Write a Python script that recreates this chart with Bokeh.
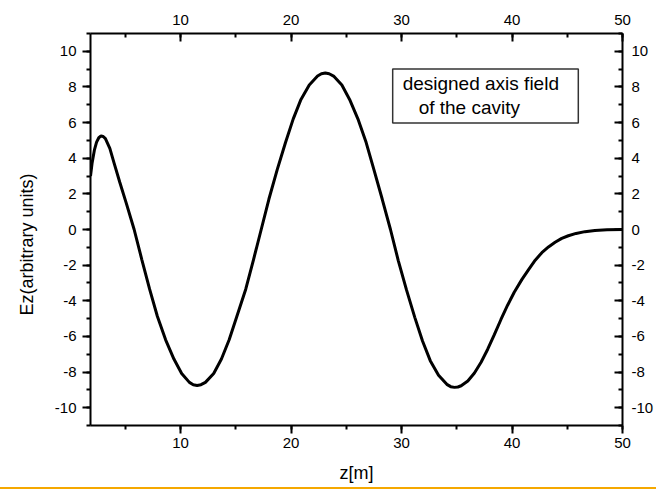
from bokeh.plotting import figure
from bokeh.models import (LinearAxis, SingleIntervalTicker, Range1d, FixedTicker,
                          BoxAnnotation, Label, CustomJSTickFormatter, Div)
from bokeh.layouts import column
from bokeh.embed import file_html
from bokeh.resources import INLINE

# ---- data ----
z_m = [1.85, 2.0, 2.2, 2.4, 2.6, 2.8, 3.0, 3.2, 3.6, 4.0, 4.5, 5.1, 5.8, 6.5,
       7.2, 7.9, 8.65, 9.4, 10.1, 10.8, 11.15, 11.5, 11.85, 12.25, 13.0, 13.7,
       14.4, 15.1, 15.9, 16.6, 17.3, 18.0, 18.75, 19.5, 20.2, 20.9, 21.65,
       22.4, 22.75, 23.1, 23.45, 23.85, 24.6, 25.3, 26.05, 26.8, 27.5, 28.25,
       29.0, 29.7, 30.45, 31.2, 31.9, 32.6, 33.35, 34.1, 34.45, 34.8, 35.1,
       35.4, 36.0, 36.6, 37.2, 37.8, 38.4, 39.0, 39.6, 40.2, 40.9, 41.5, 42.1,
       42.7, 43.3, 43.9, 44.5, 45.1, 45.8, 46.6, 47.5, 48.6, 50.0]
ez = [3.0, 3.75, 4.45, 4.9, 5.15, 5.25, 5.22, 5.1, 4.55, 3.7, 2.65, 1.45, 0.0,
      -1.7, -3.35, -4.87, -6.19, -7.27, -8.08, -8.58, -8.71, -8.75, -8.71,
      -8.58, -8.08, -7.27, -6.19, -4.87, -3.35, -1.7, 0.0, 1.71, 3.36, 4.88,
      6.21, 7.3, 8.11, 8.61, 8.74, 8.78, 8.74, 8.61, 8.11, 7.3, 6.21, 4.88,
      3.36, 1.71, 0.0, -1.73, -3.39, -4.93, -6.26, -7.36, -8.18, -8.69, -8.82,
      -8.86, -8.84, -8.77, -8.5, -8.05, -7.45, -6.72, -5.9, -5.05, -4.25,
      -3.52, -2.8, -2.25, -1.72, -1.3, -0.98, -0.72, -0.5, -0.35, -0.22,
      -0.12, -0.06, -0.02, 0.0]

legend_lines = ["designed axis field", "of the cavity"]
x_label = "z[m]"
y_label = "Ez(arbitrary units)"

FONT = "Liberation Sans"

p = figure(width=656, height=487, output_backend="svg",
           toolbar_location=None,
           x_range=Range1d(1.85, 50), y_range=Range1d(-11, 11),
           x_axis_type=None, y_axis_type=None,
           min_border_left=90, min_border_right=33, min_border_top=33,
           min_border_bottom=62)
p.outline_line_color = None
p.xgrid.visible = False
p.ygrid.visible = False
p.background_fill_color = "white"
p.border_fill_color = "white"

fmt_code = "return Math.round(tick).toString();"


def style(ax, inside):
    ax.formatter = CustomJSTickFormatter(code=fmt_code)
    ax.axis_line_width = 2
    ax.axis_line_color = "black"
    ax.major_tick_line_width = 2
    ax.minor_tick_line_width = 2
    ax.major_tick_line_color = "black"
    ax.minor_tick_line_color = "black"
    if inside:
        ax.major_tick_in, ax.major_tick_out = 8, 0
        ax.minor_tick_in, ax.minor_tick_out = 4, 0
    else:
        ax.major_tick_in, ax.major_tick_out = 0, 8
        ax.minor_tick_in, ax.minor_tick_out = 0, 4
    ax.major_label_text_font = FONT
    ax.major_label_text_font_size = "15px"
    ax.major_label_text_color = "black"
    ax.axis_label_text_font = FONT
    ax.axis_label_text_font_size = "18px"
    ax.axis_label_text_font_style = "normal"
    ax.axis_label_text_color = "black"


def xt():
    return SingleIntervalTicker(interval=10, num_minor_ticks=2)


def yt():
    return SingleIntervalTicker(interval=2, num_minor_ticks=2)


bottom = LinearAxis(ticker=xt(), axis_label=x_label)
style(bottom, False)
bottom.major_label_standoff = 4
bottom.axis_label_standoff = 12
p.add_layout(bottom, "below")

top = LinearAxis(ticker=xt())
style(top, True)
top.major_label_standoff = 9
p.add_layout(top, "above")

left = LinearAxis(ticker=yt())
style(left, False)
left.major_label_standoff = 6
p.add_layout(left, "left")

# y title on a bare outer axis; trailing no-break spaces move the visible
# words down to where the reference shows them
ytitle = LinearAxis(ticker=FixedTicker(ticks=[]),
                    axis_label=y_label + "\u00a0" * 6)
style(ytitle, False)
ytitle.axis_line_color = None
ytitle.major_tick_line_color = None
ytitle.minor_tick_line_color = None
ytitle.major_tick_out = 0
ytitle.minor_tick_out = 0
ytitle.axis_label_standoff = 15
p.add_layout(ytitle, "left")

right = LinearAxis(ticker=yt())
style(right, True)
right.major_label_standoff = 9
p.add_layout(right, "right")

p.line(z_m, ez, line_color="black", line_width=3)

# legend box
box = BoxAnnotation(left=29.2, right=46.0, top=9.01, bottom=5.98,
                    fill_color="white", fill_alpha=1.0,
                    line_color="#333333", line_alpha=1.0, line_width=1.5)
p.add_layout(box)
p.add_layout(Label(x=30.1, y=8.17, text=legend_lines[0], text_font=FONT,
                   text_font_size="19px", text_baseline="alphabetic",
                   text_color="black"))
p.add_layout(Label(x=31.55, y=6.82, text=legend_lines[1], text_font=FONT,
                   text_font_size="19px", text_baseline="alphabetic",
                   text_color="black"))

bar = Div(text="", width=656, height=2, margin=0,
          styles={"background-color": "#F5A800"})

layout = column(p, bar, spacing=0)

open("out.html", "w").write(file_html(layout, INLINE))
